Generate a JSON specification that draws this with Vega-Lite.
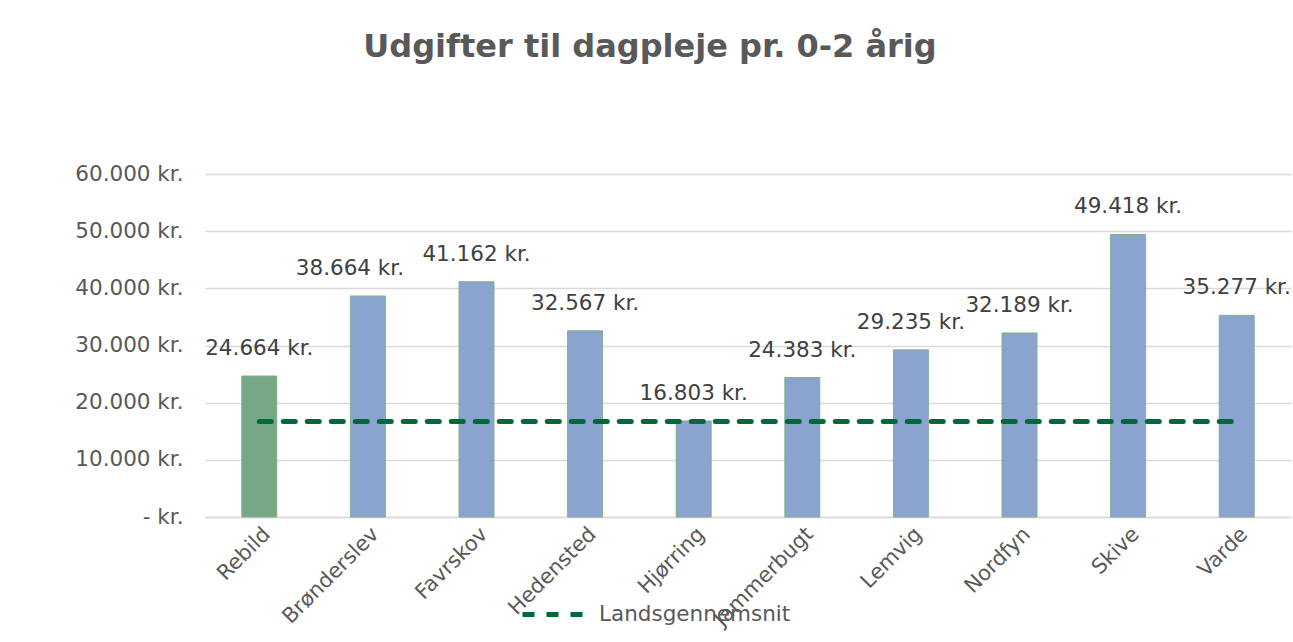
{
  "$schema": "https://vega.github.io/schema/vega-lite/v6.json",
  "width": 1086,
  "height": 343,
  "autosize": {"type": "none"},
  "padding": {"left": 205, "top": 174, "right": 2, "bottom": 125},
  "background": "white",
  "config": {
    "locale": {"number": {"decimal": ",", "thousands": ".", "grouping": [3], "currency": ["", " kr."]}},
    "font": "DejaVu Sans",
    "view": {"stroke": null}
  },
  "title": {
    "text": "Udgifter til dagpleje pr. 0-2 årig",
    "fontSize": 32,
    "fontWeight": "bold",
    "color": "#595959",
    "anchor": "middle",
    "dx": -98,
    "offset": 99,
    "font": "DejaVu Sans"
  },
  "data": {
    "values": [
      {"kommune": "Rebild", "udgift": 24664, "landsgennemsnit": 16700},
      {"kommune": "Brønderslev", "udgift": 38664, "landsgennemsnit": 16700},
      {"kommune": "Favrskov", "udgift": 41162, "landsgennemsnit": 16700},
      {"kommune": "Hedensted", "udgift": 32567, "landsgennemsnit": 16700},
      {"kommune": "Hjørring", "udgift": 16803, "landsgennemsnit": 16700},
      {"kommune": "Jammerbugt", "udgift": 24383, "landsgennemsnit": 16700},
      {"kommune": "Lemvig", "udgift": 29235, "landsgennemsnit": 16700},
      {"kommune": "Nordfyn", "udgift": 32189, "landsgennemsnit": 16700},
      {"kommune": "Skive", "udgift": 49418, "landsgennemsnit": 16700},
      {"kommune": "Varde", "udgift": 35277, "landsgennemsnit": 16700}
    ]
  },
  "encoding": {
    "x": {
      "field": "kommune",
      "type": "nominal",
      "sort": null,
      "scale": {"paddingInner": 0.678, "paddingOuter": 0.339},
      "axis": {
        "title": null,
        "labelAngle": -45,
        "labelFontSize": 21,
        "labelColor": "#595959",
        "domainColor": "#d9d9d9",
        "domainWidth": 1.5,
        "ticks": false,
        "labelPadding": 6,
        "labelLimit": 0
      }
    }
  },
  "layer": [
    {
      "mark": {"type": "bar", "stroke": "#7fb08e", "strokeWidth": 1},
      "encoding": {
        "y": {
          "field": "udgift",
          "type": "quantitative",
          "scale": {"domain": [0, 60000]},
          "axis": {
            "title": null,
            "values": [0, 10000, 20000, 30000, 40000, 50000, 60000],
            "format": ",.0f",
            "labelExpr": "datum.value === 0 ? '- kr.' : datum.label + ' kr.'",
            "gridColor": "#d9d9d9",
            "gridWidth": 1.5,
            "domain": false,
            "ticks": false,
            "labelFontSize": 21.5,
            "labelColor": "#595959",
            "labelPadding": 22,
            "labelLimit": 0
          }
        },
        "color": {
          "condition": {"test": "datum.kommune === 'Rebild'", "value": "#76a886"},
          "value": "#8aa4cf"
        }
      }
    },
    {
      "transform": [{"filter": "datum.kommune !== 'Brønderslev'"}],
      "mark": {"type": "text", "dy": -27, "fontSize": 21.5, "color": "#404040", "baseline": "middle"},
      "encoding": {
        "y": {"field": "udgift", "type": "quantitative"},
        "text": {"field": "udgift", "type": "quantitative", "format": "$,.0f"}
      }
    },
    {
      "transform": [{"filter": "datum.kommune === 'Brønderslev'"}],
      "mark": {"type": "text", "dy": -27, "dx": -18, "fontSize": 21.5, "color": "#404040", "baseline": "middle"},
      "encoding": {
        "y": {"field": "udgift", "type": "quantitative"},
        "text": {"field": "udgift", "type": "quantitative", "format": "$,.0f"}
      }
    },
    {
      "mark": {"type": "line", "strokeDash": [12, 12], "strokeWidth": 5, "strokeCap": "round"},
      "encoding": {
        "y": {"field": "landsgennemsnit", "type": "quantitative"},
        "color": {
          "datum": "Landsgennemsnit",
          "scale": {"range": ["#00693a"]},
          "legend": {
            "title": null,
            "orient": "none",
            "legendX": 315,
            "legendY": 408,
            "symbolType": "stroke",
            "symbolSize": 3600,
            "symbolStrokeWidth": 5,
            "symbolDash": [12, 12],
            "symbolDashOffset": 0,
            "labelFontSize": 21.5,
            "labelColor": "#595959",
            "labelOffset": 14,
            "labelLimit": 0
          }
        }
      }
    }
  ]
}
